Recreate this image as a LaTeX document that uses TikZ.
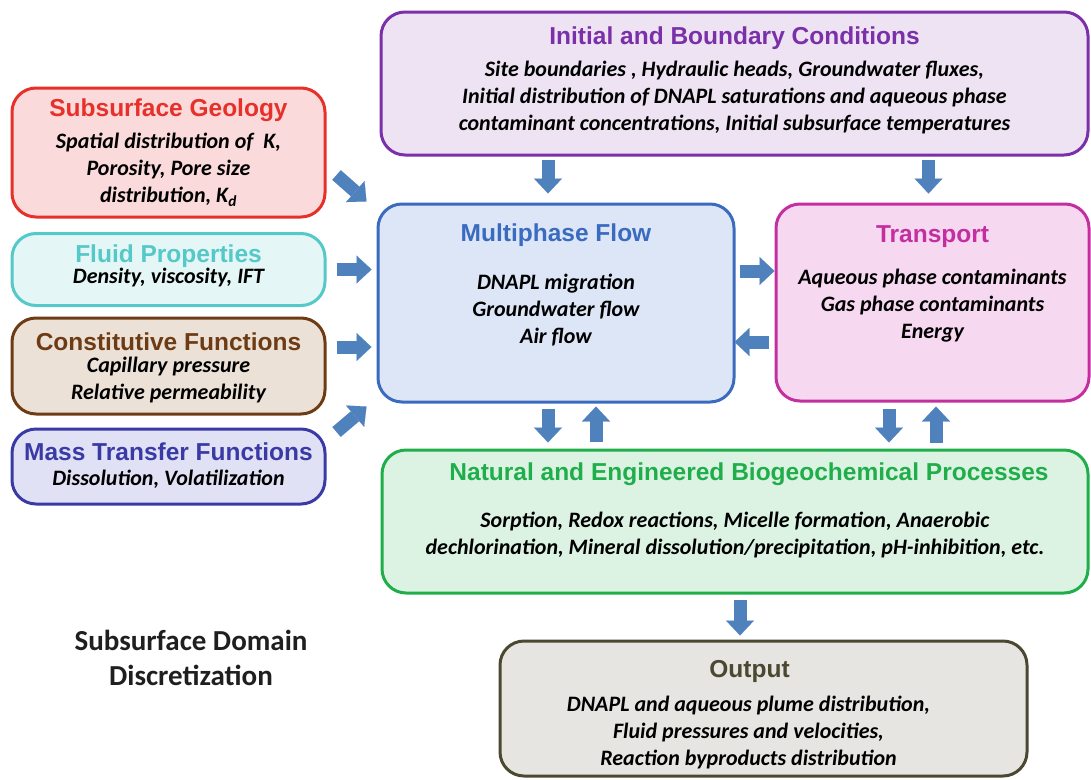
\documentclass[tikz,border=0pt]{standalone}
\usepackage{fontspec}
\setmainfont{Carlito}
\newfontfamily\headfont{Liberation Sans}
\usetikzlibrary{arrows.meta,calc}

\definecolor{geoC}{HTML}{E8302A}   \definecolor{geoF}{HTML}{FADADA}
\definecolor{fluC}{HTML}{55C8C8}   \definecolor{fluF}{HTML}{E4F6F6}
\definecolor{conC}{HTML}{6E3C14}   \definecolor{conF}{HTML}{EBE1D7}
\definecolor{masC}{HTML}{3A3AA6}   \definecolor{masF}{HTML}{E1E1F6}
\definecolor{iniC}{HTML}{7A30A8}   \definecolor{iniF}{HTML}{EEE3F3}
\definecolor{mulC}{HTML}{3A6BBF}   \definecolor{mulF}{HTML}{DCE6F6}
\definecolor{traC}{HTML}{C42FA0}   \definecolor{traF}{HTML}{F6D8F1}
\definecolor{natC}{HTML}{1FAE4A}   \definecolor{natF}{HTML}{DCF3E4}
\definecolor{outC}{HTML}{4A4830}   \definecolor{outF}{HTML}{E7E5E1}
\definecolor{arrC}{HTML}{4F81BD}

\tikzset{
  box/.style n args={2}{draw=#1, fill=#2, line width=3pt, rounded corners=24pt, inner sep=0pt},
  ttl/.style={font=\headfont\bfseries\fontsize{24.5}{28}\selectfont, inner sep=0pt},
  txt/.style={font=\bfseries\itshape\fontsize{22}{27}\selectfont, align=center, inner sep=0pt},
  blk/.style={draw=arrC, line width=13pt, -{Triangle[width=28pt,length=15pt,line width=0.1pt]}}
}

\begin{document}
\begin{tikzpicture}[x=1pt,y=-1pt]
\useasboundingbox (0,0) rectangle (1091,779);

% left column
\node[box={geoC}{geoF}, minimum width=313, minimum height=129] (geo) at (168.5,152.5) {};
\node[ttl, text=geoC] (geoT) at ([yshift=-24]geo.north) {Subsurface Geology};
\node[txt] (geoB) at ([yshift=-83]geo.north) {Spatial distribution of~ K,\\ Porosity, Pore size\\ distribution, K\textsubscript{d}};

\node[box={fluC}{fluF}, minimum width=313, minimum height=72] (flu) at (168.5,269.5) {};
\node[ttl, text=fluC] (fluT) at ([yshift=-24]flu.north) {Fluid Properties};
\node[txt] (fluB) at ([yshift=-46]flu.north) {Density, viscosity, IFT};

\node[box={conC}{conF}, minimum width=313, minimum height=96] (con) at (168.5,366) {};
\node[ttl, text=conC] (conT) at ([yshift=-25]con.north) {Constitutive Functions};
\node[txt] (conB) at ([yshift=-64]con.north) {Capillary pressure\\ Relative permeability};

\node[box={masC}{masF}, minimum width=313, minimum height=75] (mas) at (168.5,466.5) {};
\node[ttl, text=masC] (masT) at ([yshift=-24]mas.north) {Mass Transfer Functions};
\node[txt] (masB) at ([yshift=-52]mas.north) {Dissolution, Volatilization};

\node[font=\bfseries\fontsize{29}{35}\selectfont, text=black!88, align=center] (dom) at (191,658) {Subsurface Domain\\ Discretization};

% right part
\node[box={iniC}{iniF}, minimum width=707, minimum height=143] (ini) at (734.5,83.5) {};
\node[ttl, text=iniC] (iniT) at ([yshift=-28]ini.north) {Initial and Boundary Conditions};
\node[txt] (iniB) at ([yshift=-87]ini.north) {Site boundaries , Hydraulic heads, Groundwater fluxes,\\ Initial distribution of DNAPL saturations and aqueous phase\\ contaminant concentrations, Initial subsurface temperatures};

\node[box={mulC}{mulF}, minimum width=356, minimum height=198] (mul) at (556,303) {};
\node[ttl, text=mulC] (mulT) at ([yshift=-33]mul.north) {Multiphase Flow};
\node[txt] (mulB) at ([yshift=-108]mul.north) {DNAPL migration\\ Groundwater flow\\ Air flow};

\node[box={traC}{traF}, minimum width=313, minimum height=197] (tra) at (932.5,302.5) {};
\node[ttl, text=traC] (traT) at ([yshift=-34]tra.north) {Transport};
\node[txt] (traB) at ([yshift=-103]tra.north) {Aqueous phase contaminants\\ Gas phase contaminants\\ Energy};

\node[box={natC}{natF}, minimum width=706, minimum height=143] (nat) at (735,521.5) {};
\node[ttl, text=natC] (natT) at ([xshift=14,yshift=-26]nat.north) {Natural and Engineered Biogeochemical Processes};
\node[txt] (natB) at ([yshift=-86]nat.north) {Sorption, Redox reactions, Micelle formation, Anaerobic\\ dechlorination, Mineral dissolution/precipitation, pH-inhibition, etc.};

\node[box={outC}{outF}, minimum width=527, minimum height=135] (out) at (763.5,708.5) {};
\node[ttl, text=outC] (outT) at ([xshift=-14,yshift=-32]out.north) {Output};
\node[txt] (outB) at ([xshift=-15,yshift=-93]out.north) {DNAPL and aqueous plume distribution,\\ Fluid pressures and velocities,\\ Reaction byproducts distribution};

% block arrows
\draw[blk] ($(geo.east)+(10,22.5)$) -- ($(mul.north west)+(-10,-1)$);
\draw[blk] ($(flu.east)+(10,0)$) -- ($(flu.east -| mul.west)+(-5,0)$);
\draw[blk] ($(con.east)+(10,-19)$) -- ($(con.east -| mul.west)+(-5,-19)$);
\draw[blk] ($(mas.east)+(10,-34.5)$) -- ($(mul.south west)+(-10,3)$);

\draw[blk] ($(mul.north |- ini.south)+(-8,3)$) -- ($(mul.north)+(-8,-9)$);
\draw[blk] ($(tra.north |- ini.south)+(-4,3)$) -- ($(tra.north)+(-4,-9)$);

\draw[blk] ($(mul.east)+(4,-32)$) -- ($(mul.east -| tra.west)+(0,-32)$);
\draw[blk] ($(tra.west)+(-6,39.5)$) -- ($(tra.west -| mul.east)+(-1,39.5)$);

\draw[blk] ($(mul.south)+(-8,5)$) -- ($(mul.south |- nat.north)+(-8,-6)$);
\draw[blk] ($(mul.south |- nat.north)+(40,-7)$) -- ($(mul.south)+(40,3)$);
\draw[blk] ($(tra.south)+(-43.5,6)$) -- ($(tra.south |- nat.north)+(-43.5,-6)$);
\draw[blk] ($(tra.south |- nat.north)+(3.5,-6)$) -- ($(tra.south)+(3.5,4)$);

\draw[blk] ($(nat.south)+(5,5)$) -- ($(nat.south |- out.north)+(5,-4)$);
\end{tikzpicture}
\end{document}
